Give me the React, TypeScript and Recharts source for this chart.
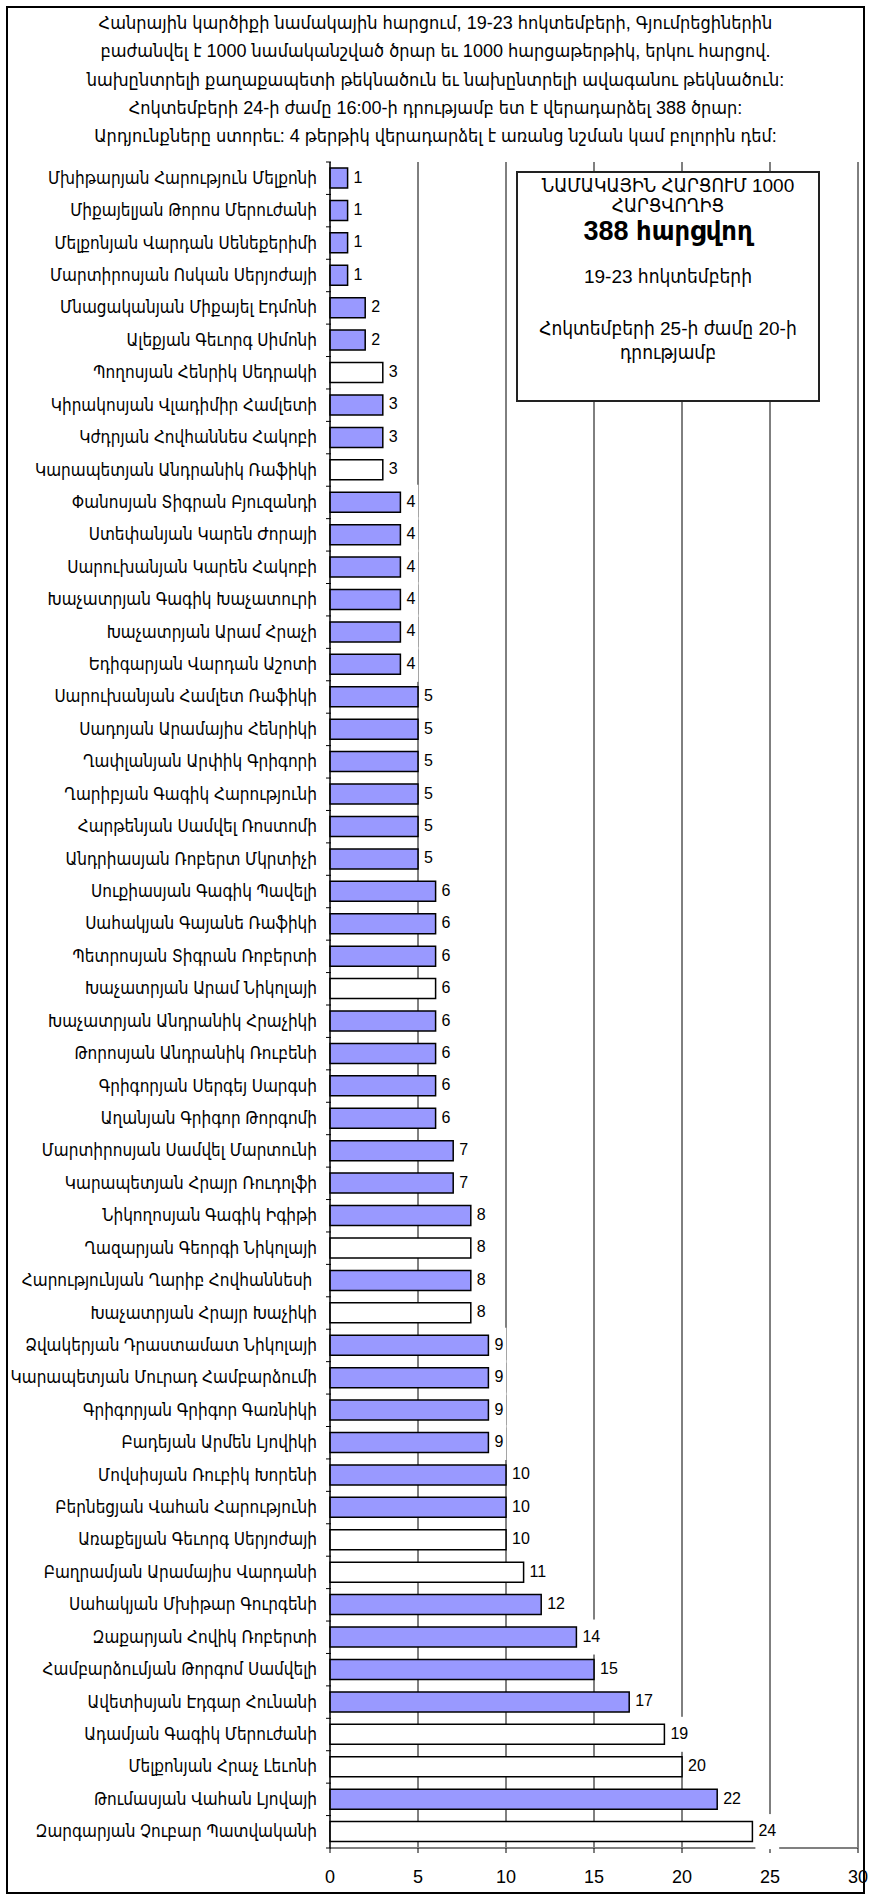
import { Bar, BarChart, CartesianGrid, Cell, LabelList, XAxis, YAxis } from "recharts";

const FONT = "'Liberation Sans', 'DejaVu Sans Condensed', 'DejaVu Sans', sans-serif";

const titleLines = [
  "Հանրային կարծիքի նամակային հարցում, 19-23 հոկտեմբերի, Գյումրեցիներին",
  "բաժանվել է 1000 նամականշված ծրար եւ 1000 հարցաթերթիկ, երկու հարցով.",
  "նախընտրելի քաղաքապետի թեկնածուն եւ նախընտրելի ավագանու թեկնածուն:",
  "Հոկտեմբերի 24-ի ժամը 16:00-ի դրությամբ ետ է վերադարձել 388 ծրար:",
  "Արդյունքները ստորեւ: 4 թերթիկ վերադարձել է առանց նշման կամ բոլորին դեմ:",
];

const candidates = [
  "Մխիթարյան Հարություն Մելքոնի",
  "Միքայելյան Թորոս Մերուժանի",
  "Մելքոնյան Վարդան Սենեքերիմի",
  "Մարտիրոսյան Ոսկան Սերյոժայի",
  "Մնացականյան Միքայել Էդմոնի",
  "Ալեքյան Գեւորգ Սիմոնի",
  "Պողոսյան Հենրիկ Սեդրակի",
  "Կիրակոսյան Վլադիմիր Համլետի",
  "Կժդրյան Հովհաննես Հակոբի",
  "Կարապետյան Անդրանիկ Ռաֆիկի",
  "Փանոսյան Տիգրան Բյուզանդի",
  "Ստեփանյան Կարեն Ժորայի",
  "Սարուխանյան Կարեն Հակոբի",
  "Խաչատրյան Գագիկ Խաչատուրի",
  "Խաչատրյան Արամ Հրաչի",
  "Եդիգարյան Վարդան Աշոտի",
  "Սարուխանյան Համլետ Ռաֆիկի",
  "Սադոյան Արամայիս Հենրիկի",
  "Ղափլանյան Արփիկ Գրիգորի",
  "Ղարիբյան Գագիկ Հարությունի",
  "Հարթենյան Սամվել Ռոստոմի",
  "Անդրիասյան Ռոբերտ Մկրտիչի",
  "Սուքիասյան Գագիկ Պավելի",
  "Սահակյան Գայանե Ռաֆիկի",
  "Պետրոսյան Տիգրան Ռոբերտի",
  "Խաչատրյան Արամ Նիկոլայի",
  "Խաչատրյան Անդրանիկ Հրաչիկի",
  "Թորոսյան Անդրանիկ Ռուբենի",
  "Գրիգորյան Սերգեյ Սարգսի",
  "Աղանյան Գրիգոր Թորգոմի",
  "Մարտիրոսյան Սամվել Մարտունի",
  "Կարապետյան Հրայր Ռուդոլֆի",
  "Նիկողոսյան Գագիկ Իգիթի",
  "Ղազարյան Գեորգի Նիկոլայի",
  "Հարությունյան Ղարիբ Հովհաննեսի\u00a0",
  "Խաչատրյան Հրայր Խաչիկի",
  "Ձվակերյան Դրաստամատ Նիկոլայի",
  "Կարապետյան Մուրադ Համբարձումի",
  "Գրիգորյան Գրիգոր Գառնիկի",
  "Բադեյան Արմեն Լյովիկի",
  "Մովսիսյան Ռուբիկ Խորենի",
  "Բերնեցյան Վահան Հարությունի",
  "Առաքելյան Գեւորգ Սերյոժայի",
  "Բաղրամյան Արամայիս Վարդանի",
  "Սահակյան Մխիթար Գուրգենի",
  "Զաքարյան Հովիկ Ռոբերտի",
  "Համբարձումյան Թորգոմ Սամվելի",
  "Ավետիսյան Էդգար Հունանի",
  "Ադամյան Գագիկ Մերուժանի",
  "Մելքոնյան Հրաչ Լեւոնի",
  "Թումասյան Վահան Լյովայի",
  "Զարգարյան Չուբար Պատվականի",
];

const votes = [
  1, 1, 1, 1, 2, 2, 3, 3, 3, 3, 4, 4, 4, 4, 4, 4, 5, 5, 5, 5, 5, 5, 6, 6, 6, 6,
  6, 6, 6, 6, 7, 7, 8, 8, 8, 8, 9, 9, 9, 9, 10, 10, 10, 11, 12, 14, 15, 17, 19,
  20, 22, 24,
];

// candidates drawn as empty (white) bars in the original
const unfilled = [
  "Պողոսյան Հենրիկ Սեդրակի",
  "Կարապետյան Անդրանիկ Ռաֆիկի",
  "Խաչատրյան Արամ Նիկոլայի",
  "Ղազարյան Գեորգի Նիկոլայի",
  "Խաչատրյան Հրայր Խաչիկի",
  "Առաքելյան Գեւորգ Սերյոժայի",
  "Բաղրամյան Արամայիս Վարդանի",
  "Ադամյան Գագիկ Մերուժանի",
  "Մելքոնյան Հրաչ Լեւոնի",
  "Զարգարյան Չուբար Պատվականի",
];

const xTicks = [0, 5, 10, 15, 20, 25, 30];

const data = candidates.map((name, i) => ({ name, votes: votes[i] }));

function CandidateTick(props: any) {
  const { x, y, payload, index } = props;
  const half = payload?.offset || 16.2;
  return (
    <g>
      <line x1={x + 9} x2={x + 14} y1={y - half} y2={y - half} stroke="#000" />
      {index === candidates.length - 1 && (
        <line x1={x + 9} x2={x + 14} y1={y + half} y2={y + half} stroke="#000" />
      )}
      <text
        x={x}
        y={y}
        textAnchor="end"
        dominantBaseline="central"
        fontSize={17}
        fontFamily={FONT}
        fill="#000"
      >
        {payload.value}
      </text>
    </g>
  );
}

function VoteLabel(props: any) {
  const { x, y, width, height, value } = props;
  const left = Number(x) + Number(width) + 3;
  const cy = Number(y) + Number(height) / 2;
  const w = String(value).length * 8.9 + 6;
  return (
    <g>
      <rect x={left} y={cy - 17.5} width={w} height={35} fill="#fff" />
      <text
        x={left + 3}
        y={cy - 1}
        fontSize={16}
        fontFamily={FONT}
        fill="#000"
        dominantBaseline="central"
      >
        {value}
      </text>
    </g>
  );
}

export default function App() {
  return (
    <div
      style={{
        position: "absolute",
        left: 0,
        top: 0,
        width: 871,
        height: 1901,
        background: "#fff",
        fontFamily: FONT,
      }}
    >
      <BarChart
        width={871}
        height={1901}
        data={data}
        layout="vertical"
        margin={{ top: 162, right: 13, bottom: 23, left: 8 }}
      >
        <CartesianGrid horizontal={false} stroke="#000" strokeWidth={1} />
        <XAxis
          type="number"
          domain={[0, 30]}
          ticks={xTicks}
          interval={0}
          height={30}
          axisLine={{ stroke: "#808080", strokeWidth: 2 }}
          tickLine={{ stroke: "#000" }}
          tickSize={5}
          tickMargin={17}
          tick={{ fontSize: 18, fill: "#000", fontFamily: FONT }}
        />
        <YAxis
          type="category"
          dataKey="name"
          width={322}
          interval={0}
          axisLine={{ stroke: "#000", strokeWidth: 1 }}
          tickLine={false}
          tickSize={4}
          tickMargin={9}
          tick={<CandidateTick />}
        />
        <Bar
          dataKey="votes"
          barSize={20}
          stroke="#000"
          strokeWidth={1.5}
          isAnimationActive={false}
        >
          {data.map((d) => (
            <Cell key={d.name} fill={unfilled.includes(d.name) ? "#fff" : "#9999ff"} />
          ))}
          <LabelList dataKey="votes" content={<VoteLabel />} />
        </Bar>
      </BarChart>

      <div
        style={{
          position: "absolute",
          left: 6,
          top: 6,
          width: 859,
          height: 1888,
          boxSizing: "border-box",
          border: "2px solid #000",
          pointerEvents: "none",
        }}
      />

      <div
        style={{
          position: "absolute",
          left: 0,
          top: 9,
          width: 871,
          textAlign: "center",
          fontSize: 18,
          lineHeight: "28.25px",
          color: "#000",
          whiteSpace: "nowrap",
        }}
      >
        {titleLines.map((t) => (
          <div key={t}>{t}</div>
        ))}
      </div>

      <div
        style={{
          position: "absolute",
          left: 516,
          top: 171,
          width: 304,
          height: 231,
          boxSizing: "border-box",
          border: "2px solid #222",
          background: "#fff",
          textAlign: "center",
          fontSize: 19,
          color: "#000",
          paddingTop: 3,
          whiteSpace: "nowrap",
        }}
      >
        <div style={{ lineHeight: "20px" }}>ՆԱՄԱԿԱՅԻՆ ՀԱՐՑՈՒՄ 1000</div>
        <div style={{ lineHeight: "20px" }}>ՀԱՐՑՎՈՂԻՑ</div>
        <div style={{ lineHeight: "30px", fontSize: 27, fontWeight: "bold" }}>388 հարցվող</div>
        <div style={{ lineHeight: "20px", marginTop: 21 }}>19-23 հոկտեմբերի</div>
        <div style={{ lineHeight: "24px", marginTop: 30 }}>Հոկտեմբերի 25-ի ժամը 20-ի</div>
        <div style={{ lineHeight: "24px" }}>դրությամբ</div>
      </div>
    </div>
  );
}
